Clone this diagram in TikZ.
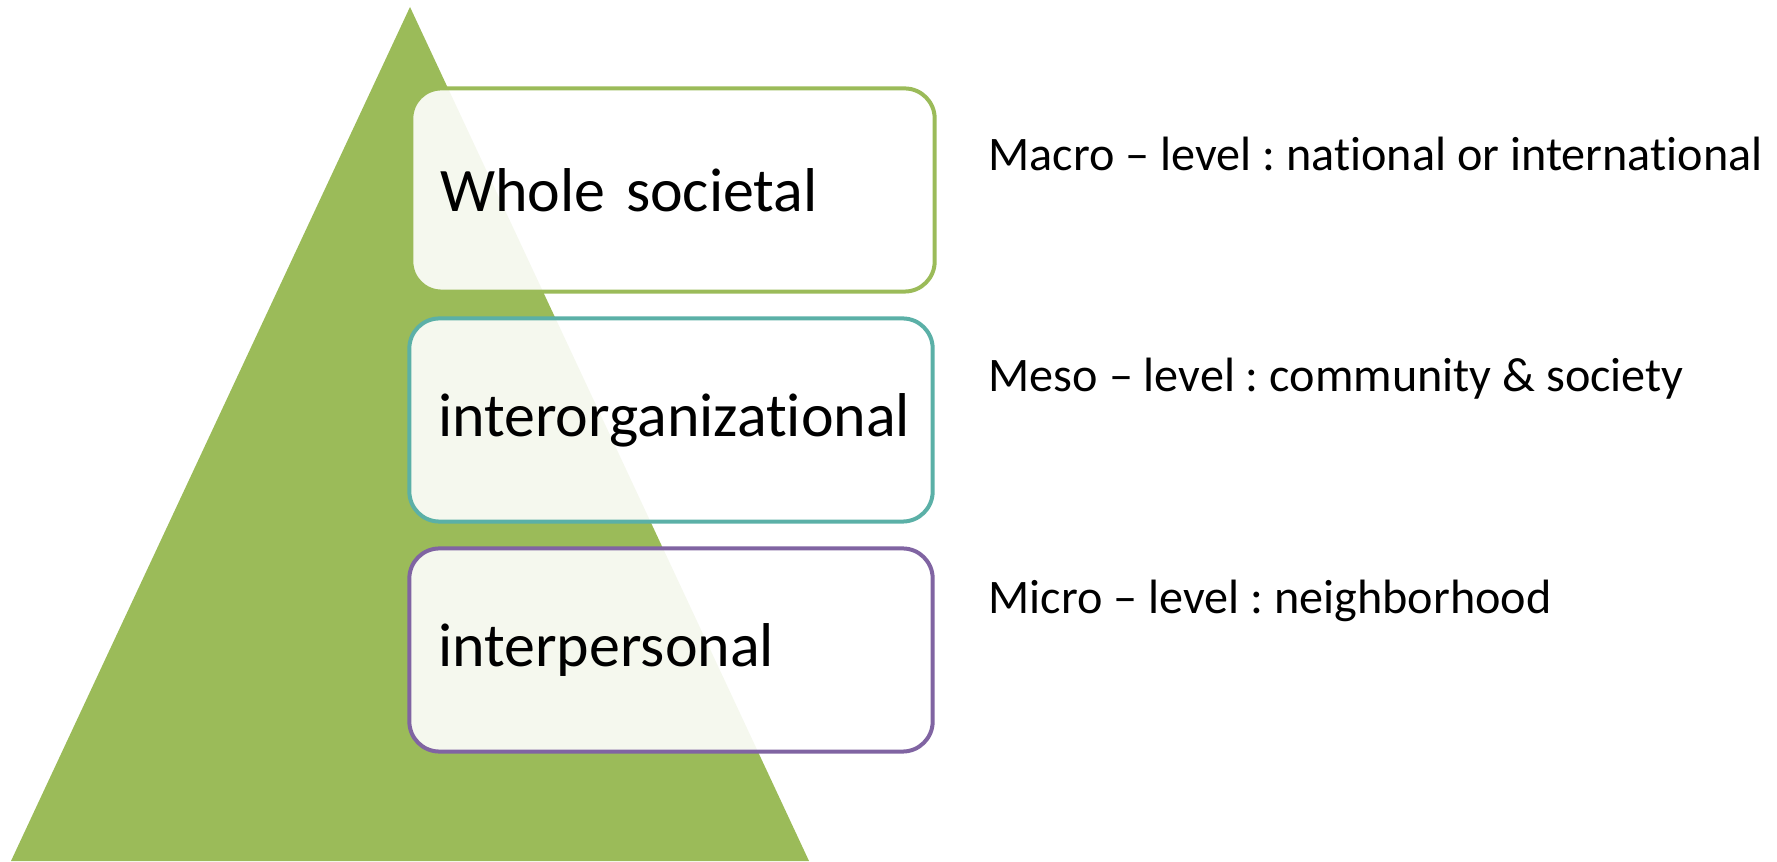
\documentclass[tikz,border=0pt]{standalone}
\usepackage{fontspec}
\setmainfont{Carlito}[Ligatures=NoCommon]
\usetikzlibrary{positioning}
\definecolor{pyrgreen}{RGB}{155,187,89}
\definecolor{levteal}{RGB}{91,176,167}
\definecolor{levpurple}{RGB}{128,100,162}
\tikzset{
  levelbox/.style={draw, line width=0.4mm, rounded corners=3mm, fill=white, fill opacity=0.9, text opacity=1,
    minimum width=5.23cm, minimum height=2.03cm, text width=4.65cm, align=left, inner xsep=2.9mm, font=\fontsize{17.6}{21}\selectfont},
  levellabel/.style={anchor=west, inner sep=0pt, font=\fontsize{13.7}{16}\selectfont}
}
\frenchspacing
\begin{document}
\begin{tikzpicture}[line cap=round,line join=round,x=0.01cm,y=0.01cm]
  \useasboundingbox (0,0) rectangle (1777,861);
  % pyramid
  \fill[pyrgreen] (11,0) -- (410,854) -- (809,0) -- cycle;
  % levels
  \node[levelbox, draw=pyrgreen] (whole) at (673,671) {Whole societal};
  \node[levelbox, draw=levteal] (inter) at (671,441) {interorganizational};
  \node[levelbox, draw=levpurple] (pers) at (671,211) {interpersonal};
  % side labels
  \node[levellabel] (macro) at (988,707) {Macro -- level : national or international};
  \node[levellabel] (meso) at (988,482) {Meso -- level : community \& society};
  \node[levellabel] (micro) at (988,260) {Micro -- level : neighborhood};
\end{tikzpicture}
\end{document}
